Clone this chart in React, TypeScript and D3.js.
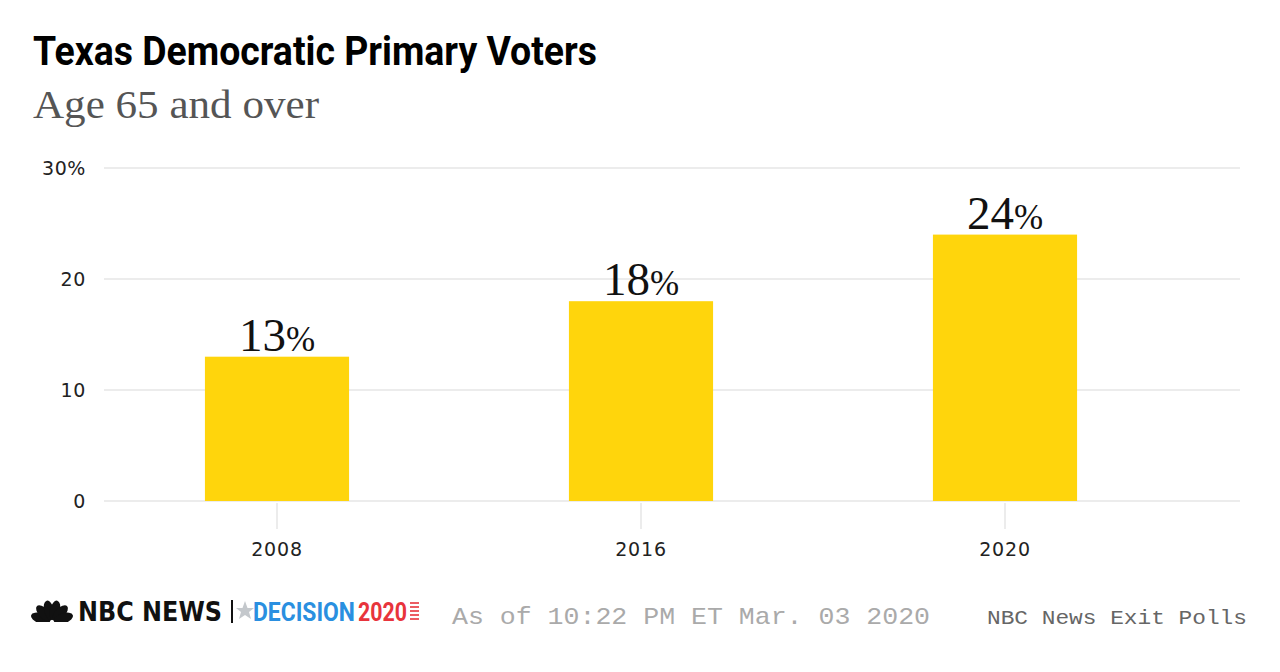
import React from 'react';
import * as d3 from 'd3';

const years = ['2008', '2016', '2020'];
const shares = [13, 18, 24];
const yTicks = [0, 10, 20, 30];

const title = 'Texas Democratic Primary Voters';
const subtitle = 'Age 65 and over';
const asOf = 'As of 10:22 PM ET Mar. 03 2020';
const source = 'NBC News Exit Polls';

const BAR = '#FFD50C';
const GRID = '#e6e6e6';

const Peacock: React.FC<{ x: number; y: number }> = ({ x, y }) => {
  const angles = [-72, -43, -14, 14, 43, 72];
  return (
    <g transform={`translate(${x},${y})`}>
      {angles.map((a, i) => (
        <ellipse key={i} cx={0} cy={-12} rx={5} ry={10} transform={`rotate(${a})`} fill="#111" />
      ))}
      <rect x={-22} y={0} width={44} height={4} fill="#fff" />
    </g>
  );
};

const App: React.FC = () => {
  const width = 1280;
  const height = 672;
  const margin = { top: 168, left: 104, right: 40, bottom: 171 };
  const chartBottom = height - margin.bottom;

  const x = d3.scaleBand<string>()
    .domain(years)
    .range([95, 1187])
    .paddingInner(0.604)
    .paddingOuter(0.302);

  const y = d3.scaleLinear()
    .domain([0, 30])
    .range([chartBottom, margin.top]);

  return (
    <div style={{ position: 'absolute', left: 0, top: 0 }}>
      <svg width={width} height={height} viewBox={`0 0 ${width} ${height}`} style={{ display: 'block', background: '#fff' }}>
        {/* Heading */}
        <text x={33} y={65} fontFamily="'Liberation Sans Narrow', 'Roboto', sans-serif" fontWeight={700} fontSize={40}
          textLength={564} lengthAdjust="spacingAndGlyphs" fill="#000">{title}</text>
        <text x={33} y={118} fontFamily="'Liberation Serif', 'DejaVu Serif', serif" fontSize={41}
          textLength={286} lengthAdjust="spacingAndGlyphs" fill="#555">{subtitle}</text>

        {/* Gridlines and y labels */}
        {yTicks.map(t => (
          <g key={t}>
            <line x1={margin.left} x2={width - margin.right} y1={y(t)} y2={y(t)} stroke={GRID} strokeWidth={1.5} />
            <text x={86} y={y(t)} dy="0.36em" textAnchor="end" fontFamily="'DejaVu Sans', sans-serif" fontSize={19}
              letterSpacing={0.6} fill="#222">{t === 30 ? `${t}%` : t}</text>
          </g>
        ))}

        {/* Bars */}
        {years.map((yr, i) => (
          <rect key={yr} x={x(yr)} y={y(shares[i])} width={x.bandwidth()} height={chartBottom - y(shares[i])} fill={BAR} />
        ))}

        {/* Value labels */}
        {years.map((yr, i) => (
          <text key={yr} x={(x(yr) ?? 0) + x.bandwidth() / 2} y={y(shares[i]) - 6} textAnchor="middle"
            fontFamily="'Liberation Serif', serif" fill="#111">
            <tspan fontSize={47}>{shares[i]}</tspan>
            <tspan fontSize={35}>%</tspan>
          </text>
        ))}

        {/* X axis ticks and labels */}
        {years.map(yr => {
          const cx = (x(yr) ?? 0) + x.bandwidth() / 2;
          return (
            <g key={yr}>
              <line x1={cx} x2={cx} y1={chartBottom + 2} y2={chartBottom + 28} stroke={GRID} strokeWidth={1.5} />
              <text x={cx} y={556} textAnchor="middle" fontFamily="'DejaVu Sans', sans-serif" fontSize={19}
                letterSpacing={0.8} fill="#222">{yr}</text>
            </g>
          );
        })}

        {/* Footer logo */}
        <Peacock x={52} y={622} />
        <text x={78} y={621} fontFamily="'DejaVu Sans', sans-serif" fontWeight={700} fontSize={27}
          textLength={144} lengthAdjust="spacingAndGlyphs" fill="#111">NBC NEWS</text>
        <line x1={232} x2={232} y1={600} y2={623} stroke="#111" strokeWidth={2} />
        <path d="M245,601 L247.5,608 L254,608 L249,612 L251,619 L245,615 L239,619 L241,612 L236,608 L242.5,608 Z"
          fill="#c4c8cc" />
        <g transform="translate(0,621) scale(1,1.2)">
          <text x={253} y={0} fontFamily="'Roboto', sans-serif" fontWeight={700} fontSize={22}
            textLength={102} lengthAdjust="spacingAndGlyphs" fill="#2a8fe0">DECISION</text>
          <text x={358} y={0} fontFamily="'Roboto', sans-serif" fontWeight={700} fontSize={22}
            textLength={49} lengthAdjust="spacingAndGlyphs" fill="#e8343c">2020</text>
        </g>
        {[603, 607, 611, 615, 619].map(ly => (
          <line key={ly} x1={410} x2={419} y1={ly} y2={ly} stroke="#e8343c" strokeWidth={1.6} />
        ))}

        <text x={452} y={624} fontFamily="'Liberation Mono', 'DejaVu Sans Mono', monospace" fontSize={24}
          textLength={478} lengthAdjust="spacingAndGlyphs" fill="#aaa">{asOf}</text>
        <text x={987} y={624} fontFamily="'Liberation Mono', 'DejaVu Sans Mono', monospace" fontSize={21}
          textLength={260} lengthAdjust="spacingAndGlyphs" fill="#666">{source}</text>
      </svg>
    </div>
  );
};

export default App;
